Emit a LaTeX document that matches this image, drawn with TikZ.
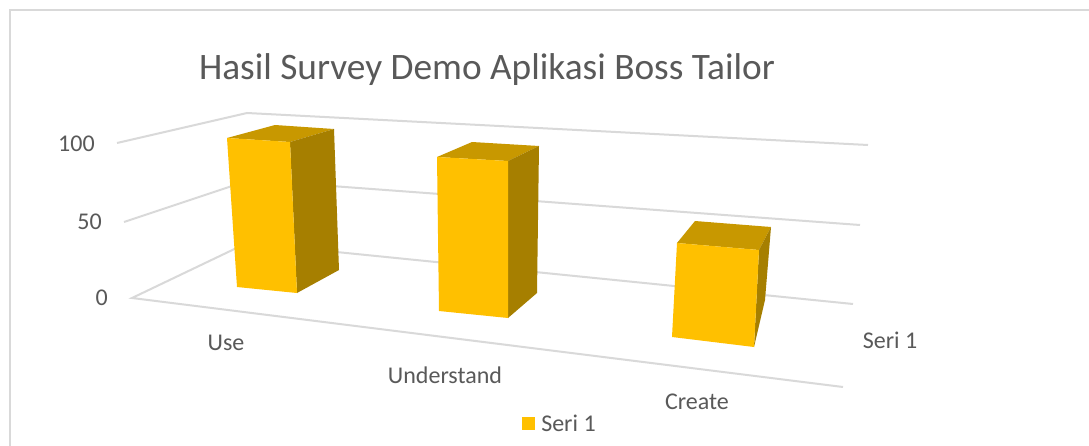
\documentclass[tikz,border=0pt]{standalone}
\usepackage{fontspec}
\setmainfont{Carlito}
\definecolor{txt}{HTML}{595959}
\definecolor{gridc}{HTML}{D9D9D9}
\definecolor{barfront}{HTML}{FFC000}
\definecolor{bartop}{HTML}{C89800}
\definecolor{barside}{HTML}{A67F00}
\tikzset{
  gridline/.style={draw=gridc, line width=1.5pt},
  frameline/.style={draw=gridc, line width=1.5pt},
  lbl/.style={text=txt, font=\fontsize{18}{21}\selectfont, inner sep=0pt},
  ttl/.style={text=txt, font=\fontsize{28}{33}\selectfont, inner sep=0pt},
  front/.style={fill=barfront},
  top/.style={fill=bartop},
  side/.style={fill=barside},
}
\begin{document}
\begin{tikzpicture}[x=0.75pt,y=-0.75pt]
\useasboundingbox (0,0) rectangle (1089,446);
\fill[white] (0,0) rectangle (1089,446);
% chart frame
\draw[frameline] (10,446) -- (10,10) -- (1089,10);

% title
\node[ttl] (title) at (487,70) {Hasil Survey Demo Aplikasi Boss Tailor};

% back wall grid and floor
\coordinate (g100l) at (117,143);
\coordinate (g100c) at (247,113);
\coordinate (g100r) at (868,145);
\coordinate (g50l) at (124,222);
\coordinate (g50c) at (250,180);
\coordinate (g50r) at (860,225);
\coordinate (g0l) at (132,298);
\coordinate (g0c) at (247,243);
\coordinate (g0r) at (853,304);
\coordinate (f0r) at (843,387);
\draw[gridline] (g100l) -- (g100c) -- (g100r);
\draw[gridline] (g50l) -- (g50c) -- (g50r);
\draw[gridline] (g0r) -- (g0c) -- (g0l) -- (f0r);

% value axis labels
\node[lbl, anchor=east] (v100) at (95,144) {100};
\node[lbl, anchor=east] (v50) at (102,222) {50};
\node[lbl, anchor=east] (v0) at (108,298) {0};

% bar: Use
\path[top]   (227,138) -- (275,125) -- (334,129) -- (290,142) -- cycle;
\path[side]  (290,142) -- (334,129) -- (339,270) -- (297,293) -- cycle;
\path[front] (227,138) -- (290,142) -- (297,293) -- (237,287) -- cycle;

% bar: Understand
\path[top]   (437,157) -- (472,142) -- (539,146) -- (508,161) -- cycle;
\path[side]  (508,161) -- (539,146) -- (537,293) -- (508,318) -- cycle;
\path[front] (437,157) -- (508,161) -- (508,318) -- (439,311) -- cycle;

% bar: Create
\path[top]   (677,243) -- (695,221) -- (771,227) -- (759,250) -- cycle;
\path[side]  (759,250) -- (771,227) -- (765,300) -- (754,347) -- cycle;
\path[front] (677,243) -- (759,250) -- (754,347) -- (672,337) -- cycle;

% category labels
\node[lbl] (cUse) at (226,343) {Use};
\node[lbl] (cUnd) at (445,375) {Understand};
\node[lbl] (cCre) at (697,402) {Create};

% series axis label
\node[lbl] (series) at (890,340) {Seri 1};

% legend
\node[fill=barfront, minimum width=9.75pt, minimum height=9.75pt, inner sep=0pt] (legkey) at (528.5,423.5) {};
\node[lbl, anchor=west] (legtext) at (541,423) {Seri 1};
\end{tikzpicture}
\end{document}
